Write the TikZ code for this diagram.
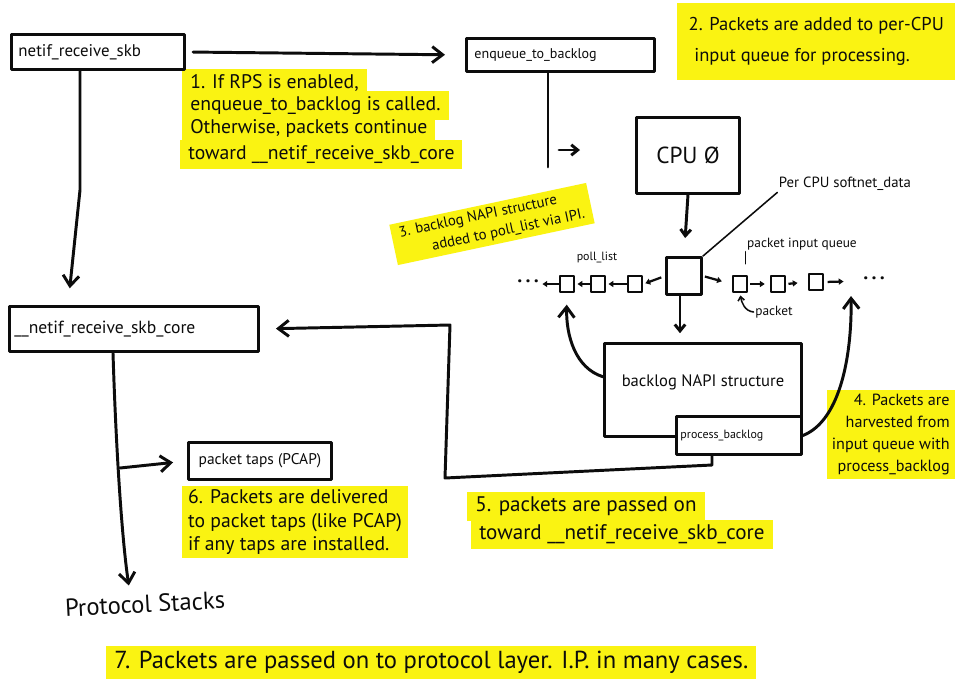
\documentclass[tikz,border=0pt]{standalone}
\usepackage{fontspec}
\setmainfont{PT Sans}
\usetikzlibrary{arrows.meta,calc}
\definecolor{marker}{RGB}{250,243,18}
\definecolor{ink}{RGB}{12,12,12}
\newcommand{\pxlen}{0.025cm}
\newcommand{\fs}[2]{\fontsize{#1}{#2}\selectfont}

\begin{document}
\begin{tikzpicture}[x=0.025cm,y=-0.025cm,
  pen/.style={draw=ink,line width=2.1pt,line cap=round,line join=round},
  thinpen/.style={draw=ink,line width=1.1pt,line cap=round},
  box/.style={pen,rectangle,anchor=north west,inner sep=0pt,text=ink,fill=white},
  cell/.style={pen,rectangle,inner sep=0pt,minimum width=14*\pxlen,minimum height=16*\pxlen},
  bigarrow/.style={pen,-{Straight Barb[length=0.26cm,width=0.4cm]}},
  midarrow/.style={pen,-{Straight Barb[length=0.16cm,width=0.26cm]}},
  tinyarrow/.style={draw=ink,line width=1.6pt,-{Triangle[length=0.12cm,width=0.15cm]}},
  note/.style={fill=marker,text=ink,inner xsep=8*\pxlen,inner ysep=4*\pxlen},
  lineband/.style={note,anchor=base west,text height=10.5pt,text depth=4pt},
  tag/.style={text=ink,inner sep=1pt},
]
\useasboundingbox (0,0) rectangle (955,687);
\fill[white] (0,0) rectangle (955,687);

% ---- highlighted notes ----
\node[lineband,font=\fs{14}{16}] (n1a) at (182,88) {1. If RPS is enabled,};
\node[lineband,font=\fs{14}{16}] (n1b) at (182,110) {enqueue\_to\_backlog is called.};
\node[lineband,font=\fs{14}{16}] (n1c) at (182,133) {Otherwise, packets continue};
\node[lineband,font=\fs{14}{16}] (n1d) at (180,159) {toward \_\_netif\_receive\_skb\_core};

\node[note,anchor=north west,align=left,font=\fs{13.2}{22},inner xsep=10*\pxlen,
      minimum width=278*\pxlen,minimum height=77*\pxlen] (n2) at (677,3)
  {2. Packets are added to per-CPU\\\hspace*{4pt}input queue for processing.};

\node[note,rotate=12,align=left,font=\fs{10.5}{14}] (n3) at (492,224)
  {3. backlog NAPI structure\\\hspace*{2em}added to poll\_list via IPI.};

\node[note,anchor=north east,align=right,font=\fs{11.5}{15.5},inner xsep=5*\pxlen]
  (n4) at (955,390)
  {4. Packets are\\harvested from\\input queue with\\process\_backlog};

\node[lineband,font=\fs{15}{17},text height=11pt] (n5a) at (467,511) {5. packets are passed on};
\node[lineband,font=\fs{15}{17},text height=11pt] (n5b) at (471,539) {toward \_\_netif\_receive\_skb\_core};

\node[note,align=left,font=\fs{14}{16.5},inner xsep=6*\pxlen] (n6) at (295,522)
  {6. Packets are delivered\\to packet taps (like PCAP)\\if any taps are installed.};

\node[lineband,font=\fs{17.5}{19},text height=13pt,text depth=5pt,inner xsep=8*\pxlen]
  (n7) at (106,668)
  {7. Packets are passed on to protocol layer. I.P. in many cases.};

% ---- boxes ----
\node[box,minimum width=173*\pxlen,minimum height=35*\pxlen,text width=159*\pxlen,
      align=left,font=\fs{12}{13}] (netif) at (10,33) {netif\_receive\_skb};
\node[box,minimum width=188*\pxlen,minimum height=33*\pxlen,text width=172*\pxlen,
      align=left,font=\fs{10}{11}] (enq) at (465,37) {enqueue\_to\_backlog};
\node[box,minimum width=103*\pxlen,minimum height=76*\pxlen,font=\fs{16.5}{18}] (cpu)
  at (635,116) {CPU Ø};
\node[box,minimum width=249*\pxlen,minimum height=45*\pxlen,text width=239*\pxlen,
      align=left,font=\fs{12.5}{14}] (core) at (8,305) {\_\_netif\_receive\_skb\_core};
\node[box,minimum width=143*\pxlen,minimum height=37*\pxlen,font=\fs{11}{12}] (taps)
  at (187,441) {packet taps (PCAP)};
\node[box,minimum width=197*\pxlen,minimum height=93*\pxlen,text depth=14pt,
      font=\fs{11.8}{13}] (napi) at (603,342) {backlog NAPI structure};
\node[box,minimum width=125*\pxlen,minimum height=38*\pxlen,text width=117*\pxlen,
      align=left,font=\fs{8.5}{10}] (pb) at (675,415) {process\_backlog};
\node[tag,rotate=3,font=\fs{17.5}{19}] (stacks) at (145,604) {Protocol Stacks};

% ---- softnet_data and its queues ----
\node[pen,rectangle,inner sep=0pt,minimum width=35*\pxlen,minimum height=37*\pxlen]
  (sd) at (684,276) {};
\node[cell] (pl1) at (567,284) {};
\node[cell] (pl2) at (598,284) {};
\node[cell] (pl3) at (635,284) {};
\node[cell] (q1) at (740,284) {};
\node[cell] (q2) at (778,284) {};
\node[cell] (q3) at (816,282) {};
\node[tag,font=\fs{14}{14}\bfseries] (dotsl) at (528,284) {·\,·\,·};
\node[tag,font=\fs{14}{14}\bfseries] (dotsr) at (874,281) {·\,·\,·};

\node[tag,font=\fs{10.5}{12}] (sdlab) at (845,184) {Per CPU softnet\_data};
\node[tag,font=\fs{8.5}{10}] (pllab) at (597,257) {poll\_list};
\node[tag,font=\fs{9.5}{11}] (qlab) at (802,244) {packet input queue};
\node[tag,font=\fs{9.5}{11}] (pktlab) at (774,312) {packet};

% ---- helper points ----
\coordinate (c80) at (80,190);
\coordinate (c68) at (68,0);
\coordinate (c548) at (548,167);
\coordinate (sa1) at (559,150);
\coordinate (sa2) at (580,150);
\coordinate (c680) at (680,0);
\coordinate (c113) at (113,0);
\coordinate (c130) at (130,0);
\coordinate (c123) at (120,468);
\coordinate (c712) at (712,465);
\coordinate (qret) at (851,296);

% ---- connectors ----
\draw[bigarrow,shorten <=0.18cm,shorten >=0.5cm] (netif.east) -- (enq.west);
\draw[bigarrow,shorten >=0.42cm] (netif.south -| c80) -- (c80) -- (core.north -| c68);
\draw[pen] (enq.south -| c548) -- (c548);
\draw[midarrow] (sa1) -- (sa2);
\draw[midarrow,shorten >=0.45cm] (cpu.south) -- (sd.north);
\draw[midarrow,shorten >=0.22cm] (sd.south -| c680) -- (napi.north -| c680);

\draw[tinyarrow,shorten <=0.1cm,shorten >=0.05cm] (sd.west) -- (pl3.east);
\draw[tinyarrow,shorten >=0.05cm] (pl3.west) -- (pl2.east);
\draw[tinyarrow,shorten >=0.05cm] (pl2.west) -- (pl1.east);
\draw[tinyarrow,shorten >=0.05cm] (pl1.west) -- (dotsl.east);
\draw[tinyarrow,shorten <=0.05cm,shorten >=0.25cm] (sd.east) -- (q1.west);
\draw[tinyarrow,shorten <=0.05cm,shorten >=0.12cm] (q1.east) -- (q2.west);
\draw[tinyarrow,shorten <=0.05cm,shorten >=0.25cm] (q2.east) -- (q3.west);
\draw[tinyarrow,shorten <=0.08cm,shorten >=0.45cm] (q3.east) -- (dotsr.west);

\draw[thinpen] (sdlab.south west) -- (sd.north east);
\draw[thinpen,shorten >=0.27cm] (qlab.south west) -- (q1.north -| qlab.south west);
\draw[thinpen,-{Straight Barb[length=0.1cm,width=0.16cm]},shorten >=0.05cm]
  (pktlab.west) to[out=175,in=-80] (q1.south);

\draw[bigarrow,shorten >=0.28cm] ([yshift=0.33cm]napi.west)
  .. controls (575,368) and (566,335) .. (pl1.south);
\draw[bigarrow] (pb.east) .. controls (842,420) and (852,350) .. (qret);
\draw[bigarrow,shorten >=0.4cm] (pb.south -| c712) -- (c712) -- (445,478) -- (450,325)
  -- (core.east);
\draw[bigarrow,shorten >=0.2cm] (core.south -| c113) .. controls (116,450) and (122,540)
  .. (stacks.north -| c130);
\draw[bigarrow,shorten >=0.35cm] (c123) -- (taps.west);
\end{tikzpicture}
\end{document}
